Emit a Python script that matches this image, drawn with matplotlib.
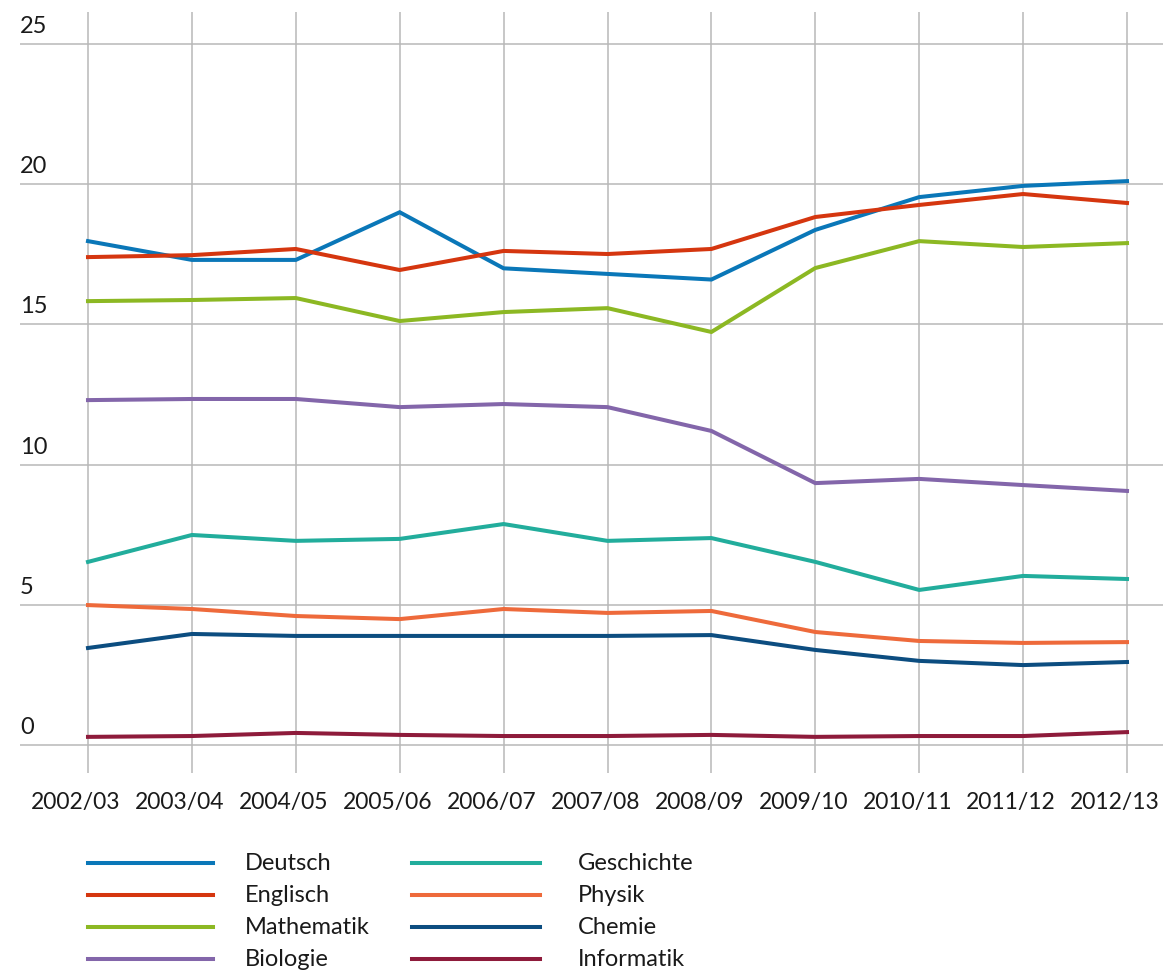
import matplotlib
matplotlib.use("Agg")
import matplotlib.pyplot as plt
from matplotlib.lines import Line2D
from matplotlib.transforms import offset_copy

years = ["2002/03", "2003/04", "2004/05", "2005/06", "2006/07", "2007/08",
         "2008/09", "2009/10", "2010/11", "2011/12", "2012/13"]

deutsch    = [17.97, 17.30, 17.30, 19.00, 17.00, 16.80, 16.60, 18.37, 19.54, 19.94, 20.11]
englisch   = [17.40, 17.47, 17.69, 16.94, 17.62, 17.51, 17.69, 18.83, 19.26, 19.65, 19.33]
mathematik = [15.83, 15.87, 15.94, 15.12, 15.44, 15.58, 14.73, 17.01, 17.97, 17.76, 17.90]
biologie   = [12.30, 12.34, 12.34, 12.05, 12.16, 12.05, 11.20, 9.34, 9.49, 9.27, 9.06]
geschichte = [6.53, 7.49, 7.28, 7.35, 7.88, 7.28, 7.38, 6.53, 5.53, 6.03, 5.92]
physik     = [4.99, 4.85, 4.60, 4.49, 4.85, 4.71, 4.78, 4.03, 3.71, 3.64, 3.67]
chemie     = [3.46, 3.96, 3.89, 3.89, 3.89, 3.89, 3.92, 3.39, 3.00, 2.85, 2.96]
informatik = [0.29, 0.32, 0.43, 0.36, 0.32, 0.32, 0.36, 0.29, 0.32, 0.32, 0.46]

series_names = ["Deutsch", "Englisch", "Mathematik", "Biologie",
                "Geschichte", "Physik", "Chemie", "Informatik"]
series_values = [deutsch, englisch, mathematik, biologie,
                 geschichte, physik, chemie, informatik]
series_colors = ["#0a77b8", "#d5360f", "#8cb823", "#8366aa",
                 "#22ad9c", "#ee6a3b", "#0c4d80", "#8e1b3b"]

y_ticks = [0, 5, 10, 15, 20, 25]
y_labels = ["0", "5", "10", "15", "20", "25"]

FONT = ["Lato", "DejaVu Sans"]
plt.rcParams["font.family"] = FONT

W, H = 1163, 973
fig = plt.figure(figsize=(W / 100, H / 100), dpi=100)
ax = fig.add_axes([20 / W, 1 - 773 / H, 1 - 20 / W, (773 - 12) / H])

px_x = (1127 - 88) / 10.0
px_y = (745 - 44) / 25.0
ax.set_xlim(-(88 - 20) / px_x, 10 + (1163 - 1127) / px_x)
ax.set_ylim(-(773 - 745) / px_y, 25 + (44 - 12) / px_y)

for s in ax.spines.values():
    s.set_visible(False)
ax.set_xticks(range(len(years)))
ax.set_yticks(y_ticks)
ax.tick_params(length=0, labelbottom=False, labelleft=False)
ax.grid(True, color="#b8b8b8", linewidth=1.1)
ax.set_axisbelow(True)

x = list(range(len(years)))
lines = []
for name, vals, col in zip(series_names, series_values, series_colors):
    ln, = ax.plot(x, vals, color=col, linewidth=2.9, label=name,
                  solid_joinstyle="miter", zorder=3)
    lines.append(ln)

# y labels above grid lines at left edge
ytr = offset_copy(ax.get_yaxis_transform(), fig=fig, x=0, y=11, units="dots")
for v, lab in zip(y_ticks, y_labels):
    ax.text(0.0, v, lab, transform=ytr, ha="left", va="baseline",
            fontsize=17, color="#1a1a1a")

# x labels
xtr = offset_copy(ax.get_xaxis_transform(), fig=fig, x=-12, y=0, units="dots")
for i, lab in enumerate(years):
    ax.text(i, -(803 - 773) / (773 - 12), lab, transform=xtr, ha="center",
            va="center", fontsize=16.5, color="#1a1a1a")

# legend (manual two-column)
rows_y = [863, 895, 927, 959]
col_line = [(88, 213), (412, 540)]
col_text = [245, 578]
for k, (ln, name) in enumerate(zip(lines, series_names)):
    c = k // 4
    r = k % 4
    yy = 1 - rows_y[r] / H
    fig.add_artist(Line2D([col_line[c][0] / W, col_line[c][1] / W], [yy, yy],
                          transform=fig.transFigure, color=ln.get_color(),
                          linewidth=2.9))
    fig.text(col_text[c] / W, yy, name, ha="left", va="center",
             fontsize=17, color="#1a1a1a")

fig.savefig("out.png", dpi=100)
